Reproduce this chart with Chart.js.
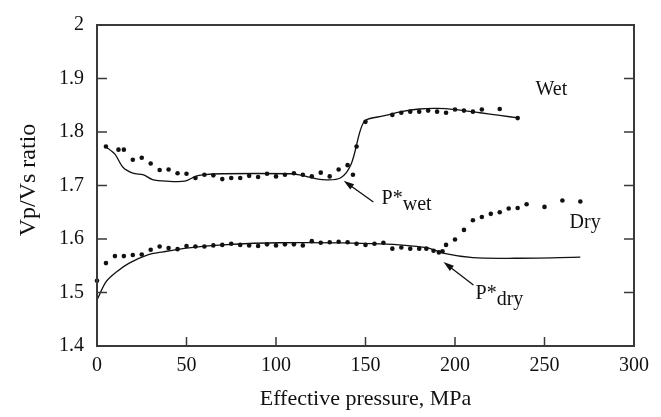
<!DOCTYPE html>
<html>
<head>
<meta charset="utf-8">
<script src="https://cdn.jsdelivr.net/npm/chart.js@4"></script>
<style>
  html, body { margin: 0; padding: 0; background: #fff; }
  #wrap { width: 661px; height: 417px; }
</style>
</head>
<body>
<div id="wrap"><canvas id="vpvs" width="661" height="417"></canvas></div>
<script>
// measured points (MPa, Vp/Vs)
const wetDotX = [5, 12, 15, 20, 25, 30, 35, 40, 45, 50, 55, 60, 65, 70, 75, 80, 85, 90, 95, 100,
  105, 110, 115, 120, 125, 130, 135, 140, 143, 145, 150,
  165, 170, 175, 180, 185, 190, 195, 200, 205, 210, 215, 225, 235];
const wetDotY = [1.773, 1.767, 1.767, 1.748, 1.752, 1.741, 1.729, 1.730, 1.723, 1.722, 1.714, 1.720, 1.719, 1.712, 1.714, 1.714, 1.718, 1.716, 1.722, 1.717,
  1.720, 1.723, 1.720, 1.717, 1.724, 1.717, 1.730, 1.738, 1.720, 1.773, 1.819,
  1.832, 1.836, 1.838, 1.838, 1.840, 1.838, 1.836, 1.842, 1.840, 1.838, 1.842, 1.843, 1.826];

const dryDotX = [0, 5, 10, 15, 20, 25, 30, 35, 40, 45, 50, 55, 60, 65, 70, 75, 80, 85, 90, 95, 100,
  105, 110, 115, 120, 125, 130, 135, 140, 145, 150, 155, 160, 165, 170, 175, 180, 184, 188, 191, 193,
  195, 200, 205, 210, 215, 220, 225, 230, 235, 240, 250, 260, 270];
const dryDotY = [1.522, 1.555, 1.568, 1.568, 1.570, 1.571, 1.580, 1.586, 1.583, 1.581, 1.587, 1.586, 1.586, 1.588, 1.589, 1.591, 1.589, 1.588, 1.587, 1.590, 1.588,
  1.590, 1.590, 1.588, 1.596, 1.593, 1.594, 1.595, 1.594, 1.591, 1.589, 1.591, 1.593, 1.582, 1.584, 1.582, 1.582, 1.582, 1.578, 1.575, 1.577,
  1.589, 1.599, 1.617, 1.635, 1.641, 1.647, 1.650, 1.657, 1.658, 1.665, 1.660, 1.672, 1.670];

// model curves
const wetLineX = [4.7, 9.9, 14.5, 20, 26, 31, 39, 49, 55, 59, 70, 108, 113, 126, 136, 142, 147, 150, 160, 170, 180, 190, 200, 214, 225, 236];
const wetLineY = [1.773, 1.759, 1.734, 1.723, 1.720, 1.711, 1.708, 1.708, 1.717, 1.720, 1.722, 1.722, 1.720, 1.711, 1.714, 1.740, 1.802, 1.822, 1.830, 1.838, 1.843, 1.844, 1.842, 1.836, 1.831, 1.826];

const dryLineX = [0, 5, 11, 18, 28, 37, 50, 70, 102, 158, 184, 194, 210, 233, 270];
const dryLineY = [1.486, 1.520, 1.539, 1.555, 1.570, 1.576, 1.583, 1.589, 1.593, 1.591, 1.584, 1.573, 1.565, 1.564, 1.566];

const xTicks = [0, 50, 100, 150, 200, 250, 300];
const yTicks = [1.4, 1.5, 1.6, 1.7, 1.8, 1.9, 2];

const pts = (xs, ys) => xs.map((x, i) => ({ x: x, y: ys[i] }));

const serif = "'Liberation Serif', 'Times New Roman', serif";
const ink = "#111";

// inward ticks, frame, titles and the labels inside the plot
const decor = {
  id: "decor",
  afterDraw(chart) {
    const c = chart.ctx;
    const a = chart.chartArea;
    const sx = chart.scales.x, sy = chart.scales.y;
    c.save();
    c.strokeStyle = "#3a3a3a";
    c.lineWidth = 2;
    c.strokeRect(a.left, a.top, a.right - a.left, a.bottom - a.top);
    c.lineWidth = 1.5;
    c.beginPath();
    xTicks.forEach(v => {
      const px = sx.getPixelForValue(v);
      c.moveTo(px, a.bottom); c.lineTo(px, a.bottom - 9);
    });
    yTicks.forEach(v => {
      const py = sy.getPixelForValue(v);
      c.moveTo(a.left, py); c.lineTo(a.left + 10, py);
      c.moveTo(a.right, py); c.lineTo(a.right - 10, py);
    });
    c.stroke();

    c.fillStyle = ink;
    c.font = "22px " + serif;
    c.textAlign = "center";
    c.textBaseline = "alphabetic";
    c.fillText("Effective pressure, MPa", (a.left + a.right) / 2, 405);
    c.save();
    c.font = "24px " + serif;
    c.translate(35, 180);
    c.rotate(-Math.PI / 2);
    c.fillText("Vp/Vs ratio", 0, 0);
    c.restore();

    c.font = "20px " + serif;
    c.textAlign = "left";
    c.fillText("Wet", sx.getPixelForValue(245), sy.getPixelForValue(1.870));
    c.fillText("Dry", sx.getPixelForValue(264), sy.getPixelForValue(1.620));

    const label = (x, y, main, sub) => {
      const px = sx.getPixelForValue(x), py = sy.getPixelForValue(y);
      c.fillText(main, px, py);
      const w = c.measureText(main).width;
      c.fillText(sub, px + w, py + 6);
    };
    label(159, 1.666, "P*", "wet");
    label(211.5, 1.487, "P*", "dry");

    const arrow = (x0, y0, x1, y1) => {
      const ax = sx.getPixelForValue(x0), ay = sy.getPixelForValue(y0);
      const bx = sx.getPixelForValue(x1), by = sy.getPixelForValue(y1);
      const ang = Math.atan2(by - ay, bx - ax);
      c.strokeStyle = ink;
      c.lineWidth = 1.3;
      c.beginPath();
      c.moveTo(ax, ay); c.lineTo(bx - 6 * Math.cos(ang), by - 6 * Math.sin(ang));
      c.stroke();
      c.beginPath();
      c.moveTo(bx, by);
      c.lineTo(bx - 11 * Math.cos(ang - 0.3), by - 11 * Math.sin(ang - 0.3));
      c.lineTo(bx - 11 * Math.cos(ang + 0.3), by - 11 * Math.sin(ang + 0.3));
      c.closePath();
      c.fill();
    };
    arrow(154.4, 1.669, 137.8, 1.709);
    arrow(210.3, 1.514, 193.6, 1.557);
    c.restore();
  }
};

new Chart(document.getElementById("vpvs"), {
  type: "scatter",
  data: {
    datasets: [
      { data: pts(wetLineX, wetLineY), showLine: true, pointRadius: 0, borderColor: ink, borderWidth: 1.3, tension: 0.3 },
      { data: pts(dryLineX, dryLineY), showLine: true, pointRadius: 0, borderColor: ink, borderWidth: 1.3, tension: 0.3 },
      { data: pts(wetDotX, wetDotY), pointRadius: 2.3, backgroundColor: ink, borderWidth: 0 },
      { data: pts(dryDotX, dryDotY), pointRadius: 2.3, backgroundColor: ink, borderWidth: 0 },
    ],
  },
  options: {
    responsive: false,
    animation: false,
    clip: false,
    layout: { padding: { top: 24, right: 27, left: 0, bottom: 0 } },
    plugins: { legend: { display: false }, tooltip: { enabled: false } },
    scales: {
      x: {
        type: "linear", min: 0, max: 300,
        afterBuildTicks: s => { s.ticks = xTicks.map(v => ({ value: v })); },
        afterFit: s => { s.height = 71; },
        grid: { display: false, drawTicks: false },
        border: { display: false },
        ticks: { padding: 8, color: ink, font: { family: serif, size: 20 }, maxRotation: 0, callback: v => String(v) },
      },
      y: {
        type: "linear", min: 1.4, max: 2,
        afterBuildTicks: s => { s.ticks = yTicks.map(v => ({ value: v })); },
        afterFit: s => { s.width = 97; },
        grid: { display: false, drawTicks: false },
        border: { display: false },
        ticks: { padding: 13, color: ink, font: { family: serif, size: 20 }, callback: v => String(v) },
      },
    },
  },
  plugins: [decor],
});
</script>
</body>
</html>
